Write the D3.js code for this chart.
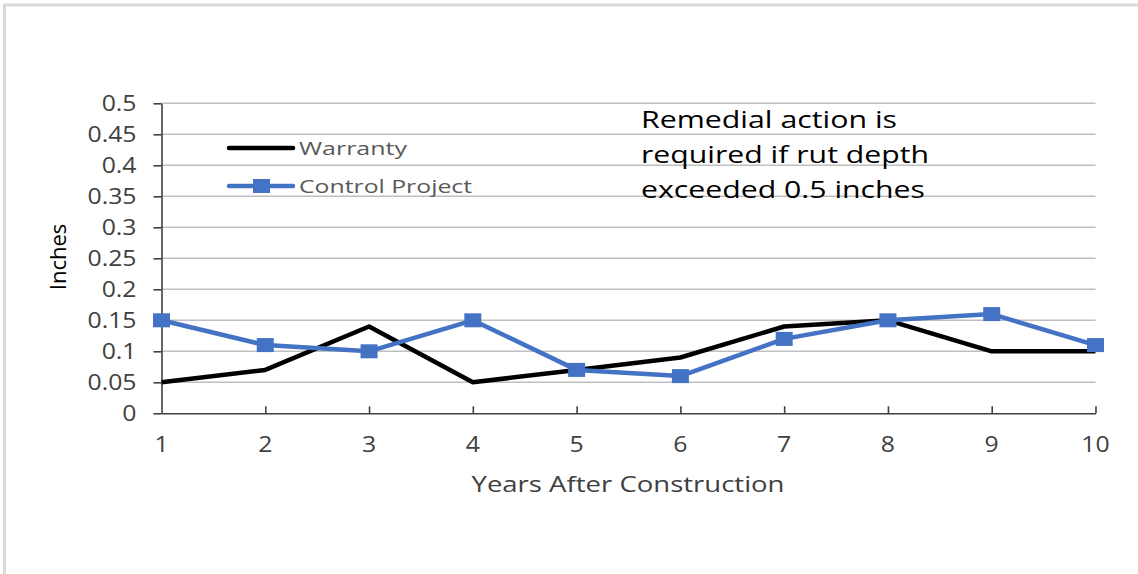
<!DOCTYPE html>
<html>
<head>
<meta charset="utf-8">
<script src="https://cdn.jsdelivr.net/npm/d3@7"></script>
<style>
  body { margin: 0; background: #fff; }
  svg { display: block; font-family: "Open Sans", sans-serif; }
</style>
</head>
<body>
<div id="chart"></div>
<script>
// data
var years = [1, 2, 3, 4, 5, 6, 7, 8, 9, 10];
var warranty = [0.05, 0.07, 0.14, 0.05, 0.07, 0.09, 0.14, 0.15, 0.10, 0.10];
var control = [0.15, 0.11, 0.10, 0.15, 0.07, 0.06, 0.12, 0.15, 0.16, 0.11];
var yTicks = [0, 0.05, 0.1, 0.15, 0.2, 0.25, 0.3, 0.35, 0.4, 0.45, 0.5];
var seriesNames = ['Warranty', 'Control Project'];
var note = ['Remedial action is', 'required if rut depth', 'exceeded 0.5 inches'];

var width = 1138, height = 574;

var svg = d3.select('#chart').append('svg')
  .attr('width', width)
  .attr('height', height);

// the source text looks stretched sideways, so widen glyphs a bit
function stretch(sel, k) {
  sel.each(function() {
    var w = this.getComputedTextLength();
    d3.select(this).attr('textLength', w * k).attr('lengthAdjust', 'spacingAndGlyphs');
  });
}

// outer frame (only top and left visible in the picture)
svg.append('rect')
  .attr('x', 4.5).attr('y', 5)
  .attr('width', 1200).attr('height', 700)
  .attr('fill', 'none')
  .attr('stroke', '#d9d9d9')
  .attr('stroke-width', 3);

var x = d3.scaleLinear().domain([1, 10]).range([161.5, 1095.5]);
var y = d3.scaleLinear().domain([0, 0.5]).range([413.3, 103.3]);

// gridlines
svg.append('g')
  .selectAll('line')
  .data(yTicks.slice(1))
  .enter().append('line')
    .attr('x1', x(1)).attr('x2', x(10))
    .attr('y1', function(d) { return y(d); })
    .attr('y2', function(d) { return y(d); })
    .attr('stroke', '#bfbfbf')
    .attr('stroke-width', 1.4);

// y axis
var yAxis = svg.append('g')
  .attr('transform', 'translate(' + x(1) + ',0)')
  .call(d3.axisLeft(y)
    .tickValues(yTicks)
    .tickSize(8)
    .tickSizeOuter(0)
    .tickPadding(17)
    .tickFormat(function(d) { return String(+d.toFixed(2)); }));

// x axis, ticks point up into the plot
var xAxis = svg.append('g')
  .attr('transform', 'translate(0,' + y(0) + ')')
  .call(d3.axisBottom(x)
    .tickValues(years.slice(1))
    .tickSize(-7)
    .tickSizeOuter(0)
    .tickFormat(''));

[yAxis, xAxis].forEach(function(g) {
  g.select('.domain').attr('stroke', '#404040').attr('stroke-width', 1.6);
  g.selectAll('.tick line').attr('stroke', '#404040').attr('stroke-width', 1.6);
});
yAxis.selectAll('.tick text')
  .attr('fill', '#404040')
  .style('font-size', '21px')
  .attr('font-family', '"Open Sans", sans-serif')
  .call(stretch, 1.18);

// x tick labels sit well below the axis
svg.append('g')
  .selectAll('text')
  .data(years)
  .enter().append('text')
    .attr('x', function(d) { return x(d); })
    .attr('y', 452)
    .attr('text-anchor', 'middle')
    .attr('fill', '#404040')
    .style('font-size', '21px')
    .text(function(d) { return d; })
    .call(stretch, 1.18);

// axis titles
svg.append('text')
  .attr('x', 628).attr('y', 492)
  .attr('text-anchor', 'middle')
  .attr('fill', '#404040')
  .attr('textLength', 313)
  .attr('lengthAdjust', 'spacingAndGlyphs')
  .style('font-size', '22px')
  .text('Years After Construction');

svg.append('text')
  .attr('transform', 'translate(66,257) rotate(-90)')
  .attr('text-anchor', 'middle')
  .attr('fill', '#000')
  .style('font-size', '22px')
  .text('Inches');

// series
var line = d3.line()
  .x(function(d, i) { return x(years[i]); })
  .y(function(d) { return y(d); });

svg.append('path')
  .datum(warranty)
  .attr('d', line)
  .attr('fill', 'none')
  .attr('stroke', '#000')
  .attr('stroke-width', 4.5)
  .attr('stroke-linejoin', 'round');

svg.append('path')
  .datum(control)
  .attr('d', line)
  .attr('fill', 'none')
  .attr('stroke', '#4472c4')
  .attr('stroke-width', 4.5)
  .attr('stroke-linejoin', 'round');

svg.append('g')
  .selectAll('rect')
  .data(control)
  .enter().append('rect')
    .attr('x', function(d, i) { return x(years[i]) - 8.5; })
    .attr('y', function(d) { return y(d) - 7; })
    .attr('width', 17)
    .attr('height', 14)
    .attr('fill', '#4472c4');

// legend
var legend = svg.append('g');
legend.append('line')
  .attr('x1', 229).attr('x2', 293).attr('y1', 148).attr('y2', 148)
  .attr('stroke', '#000').attr('stroke-width', 4.5).attr('stroke-linecap', 'round');
legend.append('line')
  .attr('x1', 229).attr('x2', 293).attr('y1', 186).attr('y2', 186)
  .attr('stroke', '#4472c4').attr('stroke-width', 4.5).attr('stroke-linecap', 'round');
legend.append('rect')
  .attr('x', 253).attr('y', 179).attr('width', 17).attr('height', 14)
  .attr('fill', '#4472c4');
legend.selectAll('text')
  .data(seriesNames)
  .enter().append('text')
    .attr('x', 299)
    .attr('y', function(d, i) { return 155 + i * 38; })
    .attr('fill', '#595959')
    .attr('textLength', function(d, i) { return i === 0 ? 108 : 173; })
    .attr('lengthAdjust', 'spacingAndGlyphs')
    .style('font-size', '19px')
    .text(function(d) { return d; });

// note
var noteWidths = [256, 288, 284];
svg.append('g')
  .selectAll('text')
  .data(note)
  .enter().append('text')
    .attr('x', 641)
    .attr('y', function(d, i) { return 128 + i * 35; })
    .attr('fill', '#000')
    .attr('textLength', function(d, i) { return noteWidths[i]; })
    .attr('lengthAdjust', 'spacingAndGlyphs')
    .style('font-size', '24px')
    .text(function(d) { return d; });
</script>
</body>
</html>
